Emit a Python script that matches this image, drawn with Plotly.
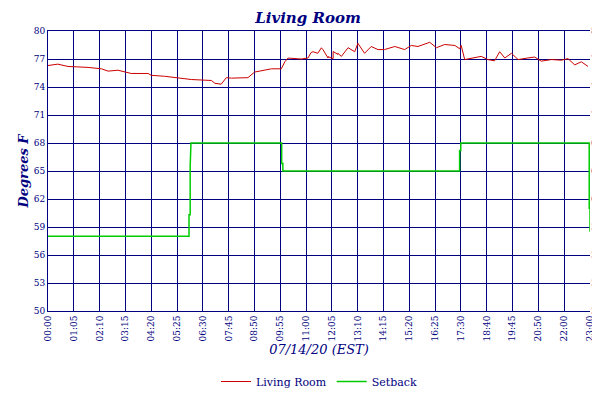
import plotly.graph_objects as go

# minutes after midnight
temp_min = [0, 25, 51, 102, 136, 153, 178, 195, 212, 255, 263, 297, 323, 365, 416, 425, 441,
            454, 467, 509, 526, 569, 594, 603, 611, 645, 670, 696, 713, 726, 738,
            662, 675, 687, 700, 713, 726, 738, 747, 764, 781, 789, 806, 823, 840, 857,
            883, 908, 925, 942, 972, 989, 1010, 1036, 1048, 1052, 1061, 1078, 1103, 1120,
            1137, 1150, 1163, 1180, 1197, 1222, 1239, 1256, 1282, 1307, 1324, 1341, 1358, 1375]
temp_val = [76.3, 76.45, 76.2, 76.1, 75.95, 75.7, 75.8, 75.6, 75.45, 75.45, 75.25, 75.15, 75.0,
            74.8, 74.7, 74.4, 74.3, 75.0, 74.95, 75.0, 75.6, 75.95, 75.95, 76.7, 77.1, 77.0,
            77.7, 78.2, 77.25, 77.8, 77.5,
            77.11, 77.78, 77.61, 78.01, 77.11, 77.04, 77.61, 77.28, 78.21, 77.78, 78.68, 77.61,
            78.34, 78.01, 78.01, 78.34, 78.01, 78.45, 78.34, 78.79, 78.21, 78.55, 78.45, 78.1,
            78.45, 76.94, 77.11, 77.28, 76.94, 76.8, 77.78, 77.11, 77.61, 76.94, 77.11, 77.21,
            76.77, 76.94, 76.87, 77.04, 76.37, 76.7, 76.2]
pairs = sorted(zip(temp_min, temp_val))
temp_min = [p[0] for p in pairs]
temp_val = [p[1] for p in pairs]

set_min = [0, 359, 359, 362, 362, 364, 595, 595, 598, 598, 1048, 1048, 1051, 1051, 1378, 1378, 1380, 1380]
set_val = [58.0, 58.0, 60.3, 60.3, 65.5, 68.0, 68.0, 65.8, 65.8, 65.0, 65.0, 67.2, 67.2, 68.0, 68.0, 61.0, 61.0, 58.5]

tick_text = ["00:00", "01:05", "02:10", "03:15", "04:20", "05:25", "06:30", "07:45", "08:50",
             "09:55", "11:00", "12:05", "13:10", "14:15", "15:20", "16:25", "17:30", "18:40",
             "19:45", "20:50", "22:00", "23:00"]
tick_vals = [i * 1380 / 21 for i in range(22)]
y_ticks = [50, 53, 56, 59, 62, 65, 68, 71, 74, 77, 80]

navy = "#000080"
font = dict(family="DejaVu Serif", color=navy, size=9)

fig = go.Figure()
fig.add_trace(go.Scatter(x=temp_min, y=temp_val, mode="lines", name="Living Room",
                         line=dict(color="#cc0000", width=1)))
fig.add_trace(go.Scatter(x=set_min, y=set_val, mode="lines", name="Setback",
                         line=dict(color="#00cc00", width=1.5)))
fig.add_trace(go.Scatter(x=[0], y=[50], yaxis="y2", showlegend=False, hoverinfo="skip",
                         mode="markers", marker=dict(opacity=0)))

fig.update_layout(
    width=600, height=400, margin=dict(l=40, r=18, t=23, b=78),
    paper_bgcolor="white", plot_bgcolor="white",
    title=dict(text="<i><b>Living Room</b></i>", x=0.5, y=0.99, yanchor="top",
               font=dict(family="DejaVu Serif", color=navy, size=15)),
    xaxis=dict(range=[0, 1380], tickvals=tick_vals, ticktext=tick_text, tickangle=-90,
               showgrid=True, gridcolor=navy, gridwidth=1, linecolor=navy, mirror=True,
               showline=True, layer="above traces", tickfont=font, zeroline=False,
               automargin=False,
               title=dict(text="<i>07/14/20 (EST)</i>", standoff=4,
                          font=dict(family="DejaVu Serif", color=navy, size=13))),
    yaxis=dict(range=[50, 80], tickvals=y_ticks, showgrid=True, gridcolor=navy, gridwidth=1,
               linecolor=navy, showline=True, layer="above traces", zeroline=False,
               automargin=False, tickfont=font,
               title=dict(text="<i><b>Degrees F</b></i>", standoff=2,
                          font=dict(family="DejaVu Serif", color=navy, size=13))),
    yaxis2=dict(range=[50, 80], tickvals=y_ticks, overlaying="y", side="right",
                showgrid=False, tickfont=font, zeroline=False, automargin=False),
    legend=dict(orientation="h", x=0.5, xanchor="center", y=-0.2, yanchor="top",
                font=dict(family="DejaVu Serif", color=navy, size=11)),
    showlegend=True,
)
fig.write_html("out.html")
